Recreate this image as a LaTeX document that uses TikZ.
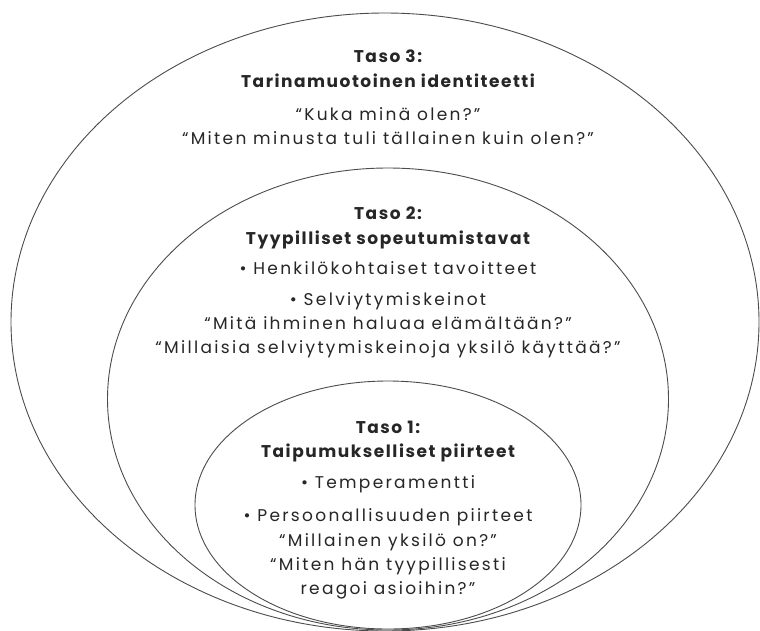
\documentclass[tikz,border=0pt]{standalone}
\usepackage{fontspec}
\setmainfont{Poppins}[LetterSpace=13.5]
\newfontfamily\ttlfont{Poppins}[LetterSpace=9]
\begin{document}
\begin{tikzpicture}[x=1pt,y=-1pt,
  ring/.style={draw=black!70,line width=0.9pt},
  txt/.style={anchor=base,inner sep=0pt,text=black!85,font=\fontsize{17}{20}\selectfont},
  ttl/.style={txt,font=\ttlfont\fontsize{17}{20}\selectfont\bfseries}]
\useasboundingbox (0,0) rectangle (760,630);
\fill[white] (0,0) rectangle (760,630);
\draw[ring] (385,322) ellipse [x radius=374, y radius=309];
\draw[ring] (388,399) ellipse [x radius=280.5, y radius=231];
\draw[ring] (388,505) ellipse [x radius=193, y radius=124];
% level 3
\node[ttl] (t3a) at (388,62) {Taso 3:};
\node[ttl] (t3b) at (388,87) {Tarinamuotoinen identiteetti};
\node[txt] (t3c) at (388,120) {“Kuka minä olen?”};
\node[txt] (t3d) at (388,144) {“Miten minusta tuli tällainen kuin olen?”};
% level 2
\node[ttl] (t2a) at (388,219) {Taso 2:};
\node[ttl] (t2b) at (388,244) {Tyypilliset sopeutumistavat};
\node[txt] (t2c) at (388,274) {• Henkilökohtaiset tavoitteet};
\node[txt] (t2d) at (388,305) {• Selviytymiskeinot};
\node[txt] (t2e) at (388,329) {“Mitä ihminen haluaa elämältään?”};
\node[txt] (t2f) at (388,353.5) {“Millaisia selviytymiskeinoja yksilö käyttää?”};
% level 1
\node[ttl] (t1a) at (388,433) {Taso 1:};
\node[ttl] (t1b) at (388,457) {Taipumukselliset piirteet};
\node[txt] (t1c) at (388,488) {• Temperamentti};
\node[txt] (t1d) at (388,521) {• Persoonallisuuden piirteet};
\node[txt] (t1e) at (388,546) {“Millainen yksilö on?”};
\node[txt] (t1f) at (388,570) {“Miten hän tyypillisesti};
\node[txt] (t1g) at (388,594.5) {reagoi asioihin?”};
\end{tikzpicture}
\end{document}
